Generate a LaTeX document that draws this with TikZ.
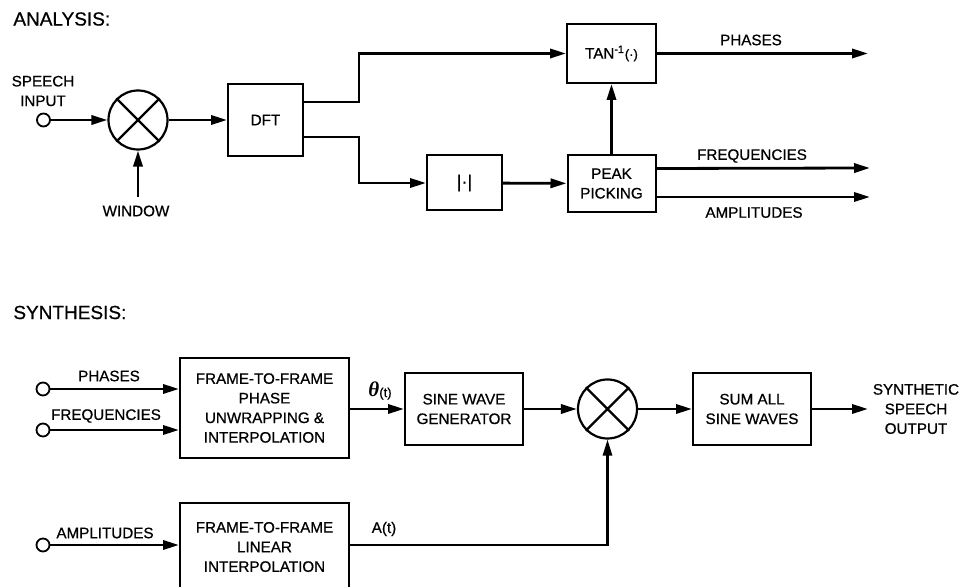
\documentclass[tikz,border=0pt]{standalone}
\usepackage{fontspec}
\setmainfont{Liberation Sans}[FakeBold=0.7]
\newfontfamily\thetafont{Liberation Serif}
\usetikzlibrary{arrows.meta}
\newcommand\labfont{\fontsize{7.6}{9.8}\selectfont}
\newcommand\headfont{\fontsize{9.5}{11}\selectfont}
\begin{document}
\begin{tikzpicture}[x=0.5pt,y=-0.5pt,
  blk/.style={draw,line width=1pt,inner sep=0pt,align=center,font=\labfont},
  lab/.style={font=\labfont,align=center,inner sep=0pt},
  conn/.style={line width=1.4pt,-{Triangle[length=8pt,width=4.6pt]}},
  thin conn/.style={line width=1.1pt,-{Triangle[length=8pt,width=4.6pt]}},
  term/.style={circle,draw,line width=0.9pt,minimum size=6.5pt,inner sep=0pt},
  mult/.style={circle,draw,line width=1.1pt,minimum size=29.5pt,inner sep=0pt}]
\useasboundingbox (0,0) rectangle (959,587);
\clip (0,0) rectangle (959,587);
% ---------------- ANALYSIS ----------------
\node[anchor=west,font=\headfont,inner sep=0pt] (ana) at (13,19) {ANALYSIS:};
\node[lab] (sil) at (43,91) {SPEECH\\INPUT};
\node[term] (sin) at (43.5,120) {};
\node[mult] (m1) at (138,120) {};
\draw[line width=1.1pt] (m1.north west) -- (m1.south east) (m1.north east) -- (m1.south west);
\node[blk,minimum width=37.5pt,minimum height=36pt] (dft) at (265.5,120) {DFT};
\coordinate (win) at (138,197);
\node[lab] (winl) at (136,211) {WINDOW};
\node[blk,minimum width=37.5pt,minimum height=27.5pt] (abs) at (464.5,183) {\fontsize{9}{10}\selectfont|·|};
\node[blk,minimum width=44.5pt,minimum height=29.5pt] (tan) at (611.5,53.5) {TAN\textsuperscript{-1}{\fontsize{6.5}{7}\selectfont(·)}};
\node[blk,minimum width=44pt,minimum height=28.5pt] (peak) at (611.5,183.5) {PEAK\\PICKING};
\coordinate (pho) at (868,53.5);
\coordinate (fro) at (870,168);
\coordinate (amo) at (870,197);
\draw[conn] (sin) -- (m1);
\draw[conn] (win) -- (m1);
\draw[conn] (m1) -- (dft);
\draw[conn] ([yshift=9pt]dft.east) -- ++(55,0) |- (tan.west);
\draw[conn] ([yshift=-8.5pt]dft.east) -- ++(55,0) |- (abs.west);
\draw[conn] (abs) -- (peak);
\draw[conn] (peak) -- (tan);
\draw[conn] (tan) -- (pho);
\draw[conn] ([yshift=7.5pt]peak.east) -- (fro);
\draw[conn] ([yshift=-6.75pt]peak.east) -- (amo);
\node[lab] (phl) at (751,40) {PHASES};
\node[lab] (frl) at (752,156) {FREQUENCIES};
\node[lab] (aml) at (754,212.5) {AMPLITUDES};
% ---------------- SYNTHESIS ----------------
\node[anchor=west,font=\headfont,inner sep=0pt] (syn) at (13,312.5) {SYNTHESIS:};
\node[blk,minimum width=84.5pt,minimum height=50pt] (ff1) at (264.5,408) {FRAME-TO-FRAME\\PHASE\\UNWRAPPING \&\\INTERPOLATION};
\node[term] (tph) at (43,389) {};
\node[lab] (tphl) at (109,376) {PHASES};
\node[term] (tfr) at (43,430) {};
\node[lab] (tfrl) at (106,416) {FREQUENCIES};
\draw[conn] (tph) -- (tph -| ff1.west);
\draw[conn] (tfr) -- (tfr -| ff1.west);
\node[blk,minimum width=59pt,minimum height=36pt] (sine) at (464,409) {SINE WAVE\\GENERATOR};
\node[mult] (m2) at (607.5,409) {};
\draw[line width=1.1pt] (m2.north west) -- (m2.south east) (m2.north east) -- (m2.south west);
\node[blk,minimum width=59pt,minimum height=36pt] (sum) at (752,409) {SUM ALL\\SINE WAVES};
\coordinate (so) at (868,409);
\node[lab] (sol) at (916,409) {SYNTHETIC\\SPEECH\\OUTPUT};
\draw[conn] (ff1.east |- sine.west) -- (sine.west);
\node[inner sep=0pt] (thl) at (380,391) {{\thetafont\bfseries\itshape\fontsize{10.5}{12}\selectfont θ}{\fontsize{6.5}{8}\selectfont(t)}};
\draw[conn] (sine) -- (m2);
\draw[conn] (m2) -- (sum);
\draw[conn] (sum) -- (so);
\node[blk,minimum width=84.5pt,minimum height=44pt] (ff2) at (264.5,547) {FRAME-TO-FRAME\\LINEAR\\INTERPOLATION};
\node[term] (tam) at (43,545) {};
\node[lab] (taml) at (105,533) {AMPLITUDES};
\draw[conn] (tam) -- (tam -| ff2.west);
\draw[thin conn] (ff2.east |- tam) -| (m2.south);
\node[lab] (atl) at (384,529) {A(t)};
\end{tikzpicture}
\end{document}
